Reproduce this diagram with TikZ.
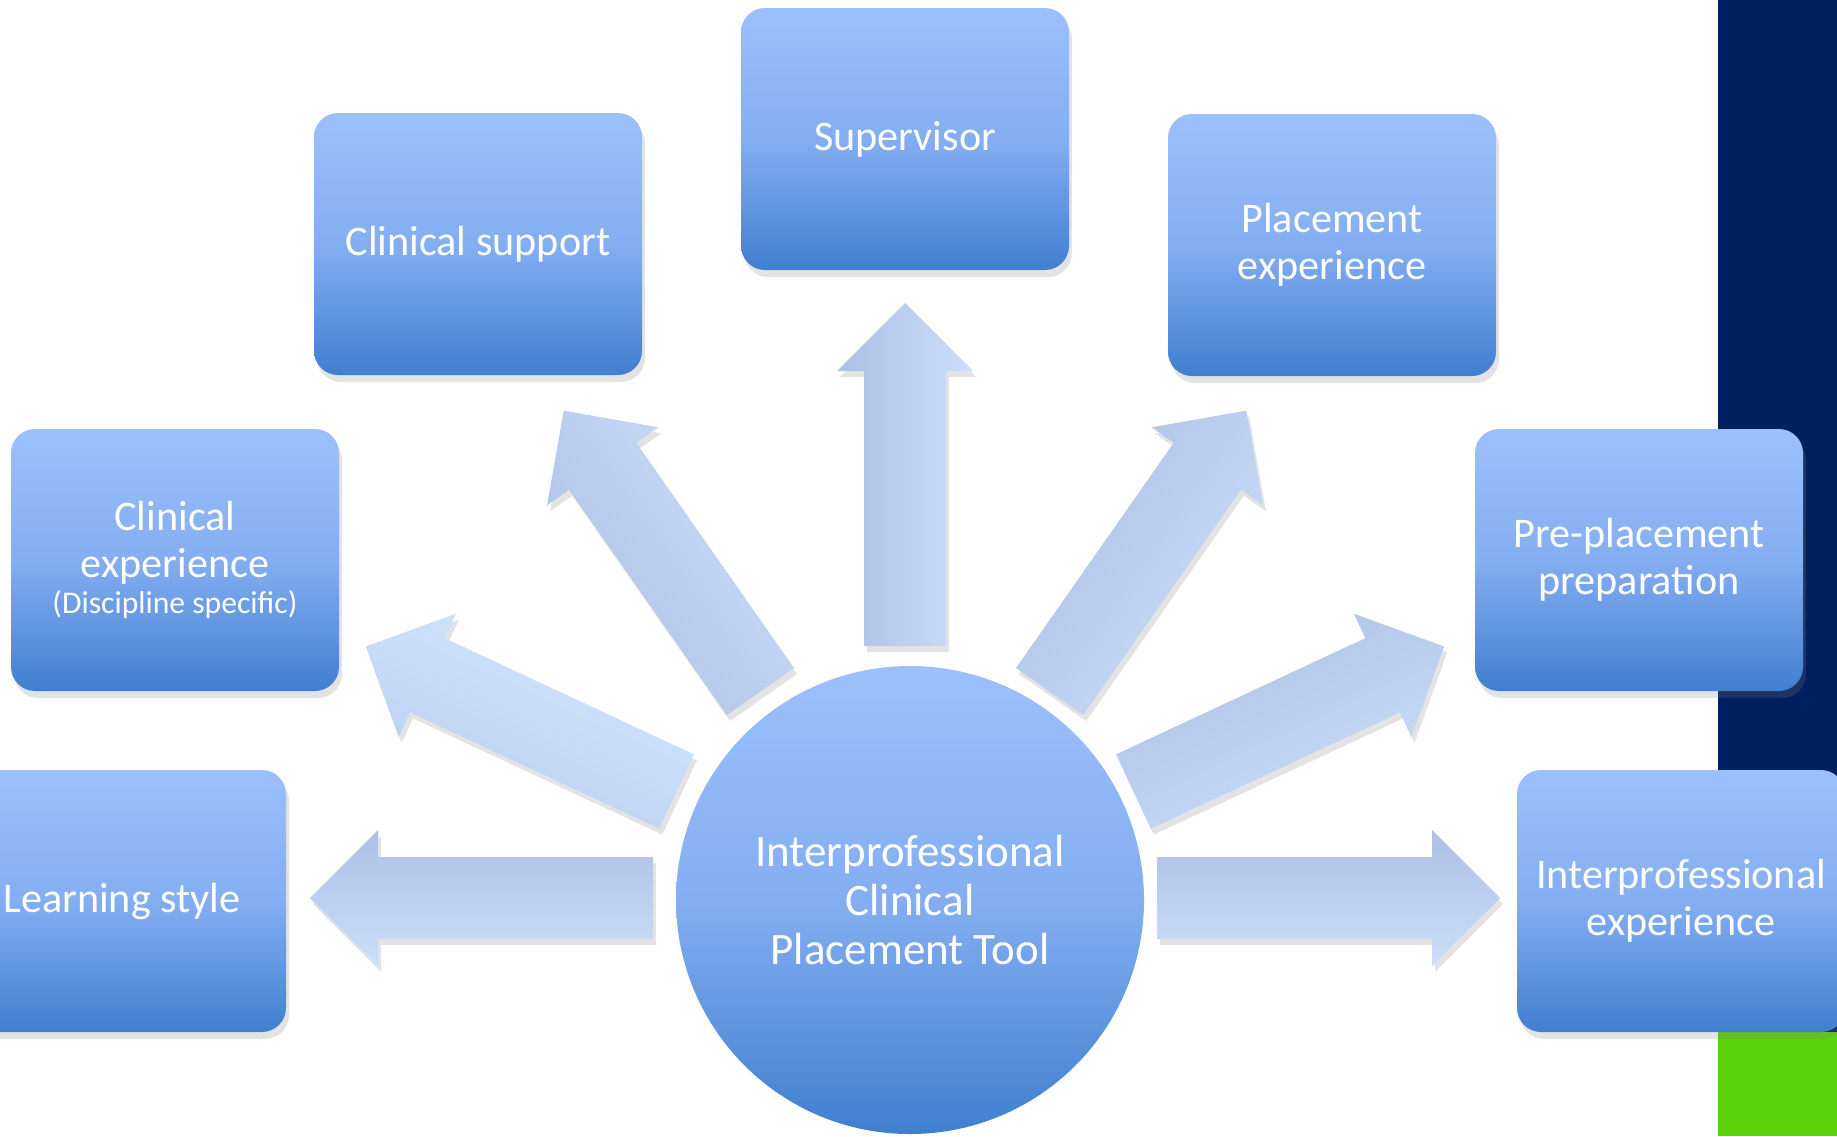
\documentclass[tikz,border=0pt]{standalone}
\usepackage{fontspec}
\setmainfont{Carlito}
\usetikzlibrary{calc}
\usetikzlibrary{shadows}

\definecolor{boxTop}{RGB}{156,192,252}
\definecolor{boxMid}{RGB}{132,174,241}
\definecolor{boxBottom}{RGB}{64,127,207}
\definecolor{arrowDark}{RGB}{173,192,228}
\definecolor{arrowLight}{RGB}{203,222,250}
\definecolor{arrowPaleDark}{RGB}{186,206,240}
\definecolor{arrowPaleLight}{RGB}{213,231,254}
\definecolor{barNavy}{RGB}{0,31,94}
\definecolor{barGreen}{RGB}{91,210,11}

\newcommand{\discfont}{\fontsize{9}{11}\selectfont}

\tikzset{
	topic/.style = {rounded corners = 2.4mm, minimum width = 3.28cm, minimum height = 2.62cm, inner sep = 0pt,
		top color = boxTop, bottom color = boxBottom, middle color = boxMid,
		text = white, align = center, font = \fontsize{12}{13.4}\selectfont,
		drop shadow = {opacity = 0.22, shadow xshift = 0.3mm, shadow yshift = -0.7mm}},
	hub/.style = {circle, minimum size = 4.68cm, inner sep = 0pt,
		top color = boxTop, bottom color = boxBottom, middle color = boxMid,
		text = white, align = center, font = \fontsize{12.8}{14}\selectfont},
	blockarrow/.style = {drop shadow = {opacity = 0.22, shadow xshift = 0.3mm, shadow yshift = -0.6mm}}
}

\begin{document}
\begin{tikzpicture}

	\useasboundingbox (0,0) rectangle (18.37,11.36);

	% side bars
	\fill [barNavy] (17.18,1.04) rectangle (18.37,11.36);
	\fill [barGreen] (17.18,0) rectangle (18.37,1.04);

	% centre circle
	\node [hub] (hub) at (9.10,2.36) {Interprofessional\\Clinical\\Placement Tool};
	\coordinate (arrowOrigin) at ($(hub.center) + (-0.05,0.02)$);

	% block arrows from the circle
	\def \arrowStart {2.52};
	\def \arrowLength {3.43};
	\def \shaftHalf {0.41};
	\def \headHalf {0.68};
	\def \headLength {0.68};
	\foreach \ang/\shadeAng/\darkCol/\lightCol in {180/0/arrowDark/arrowLight, 155/155/arrowPaleDark/arrowPaleLight,
		125/125/arrowDark/arrowLight, 90/90/arrowDark/arrowLight, 55/55/arrowDark/arrowLight,
		25/25/arrowDark/arrowLight, 0/0/arrowDark/arrowLight}
	{
		\path [blockarrow, top color = \darkCol, bottom color = \lightCol, shading angle = \shadeAng]
			($(arrowOrigin) + (\ang:\arrowStart) + ({\ang+90}:\shaftHalf)$)
			-- ($(arrowOrigin) + (\ang:{\arrowStart+\arrowLength-\headLength}) + ({\ang+90}:\shaftHalf)$)
			-- ($(arrowOrigin) + (\ang:{\arrowStart+\arrowLength-\headLength}) + ({\ang+90}:\headHalf)$)
			-- ($(arrowOrigin) + (\ang:{\arrowStart+\arrowLength})$)
			-- ($(arrowOrigin) + (\ang:{\arrowStart+\arrowLength-\headLength}) + ({\ang-90}:\headHalf)$)
			-- ($(arrowOrigin) + (\ang:{\arrowStart+\arrowLength-\headLength}) + ({\ang-90}:\shaftHalf)$)
			-- ($(arrowOrigin) + (\ang:\arrowStart) + ({\ang-90}:\shaftHalf)$)
			-- cycle;
	}

	% the seven topics
	\node [topic] (learn) at (1.22,2.35) {Learning style};
	\node [topic] (clinexp) at (1.75,5.76) {Clinical\\experience\\[-3.3pt]{\discfont (Discipline specific)}};
	\node [topic] (clinsup) at (4.78,8.92) {Clinical support};
	\node [topic] (sup) at (9.05,9.97) {Supervisor};
	\node [topic] (placeexp) at (13.32,8.91) {Placement\\experience};
	\node [topic] (preplace) at (16.39,5.76) {Pre-placement\\preparation};
	\node [topic] (ipexp) at (16.81,2.35) {Interprofessional\\experience};

\end{tikzpicture}
\end{document}
